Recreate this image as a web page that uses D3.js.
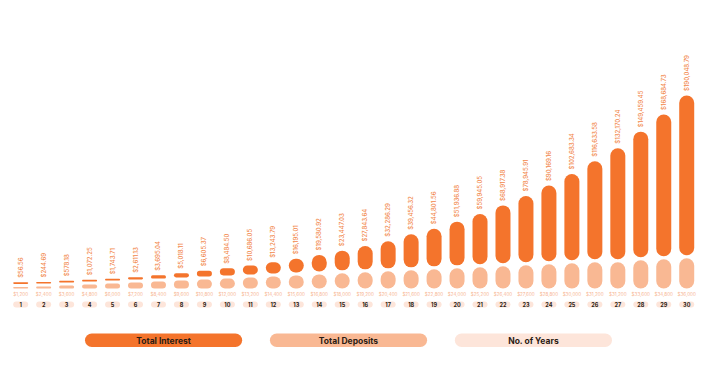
<!DOCTYPE html>
<html>
<head>
<meta charset="utf-8">
<script src="https://cdn.jsdelivr.net/npm/d3@7"></script>
<style>
  body { margin: 0; background: #fff; }
  text { font-family: Inter, "Open Sans", sans-serif; }
</style>
</head>
<body>
<div id="chart"></div>
<script>
// values
var years = [1,2,3,4,5,6,7,8,9,10,11,12,13,14,15,16,17,18,19,20,21,22,23,24,25,26,27,28,29,30];
var interest = [56.56, 244.69, 578.18, 1072.25, 1743.71, 2611.13, 3695.04, 5018.11, 6605.37, 8484.50,
  10686.05, 13243.79, 16195.01, 19580.92, 23447.03, 27843.64, 32286.29, 39456.32, 44801.56, 51936.88,
  59945.05, 68917.38, 78945.91, 90169.16, 102683.34, 116633.58, 132170.24, 149459.45, 168684.73, 190048.79];
var deposits = [1200, 2400, 3600, 4800, 6000, 7200, 8400, 9600, 10800, 12000,
  13200, 14400, 15600, 16800, 18000, 19200, 20400, 21600, 22800, 24000,
  25200, 26400, 27600, 28800, 30000, 31200, 31200, 33600, 34800, 36000];
var legendNames = ["Total Interest", "Total Deposits", "No. of Years"];

var W = 720, H = 365;
var cInterest = "#f4742c", cDeposit = "#f9b893", cYear = "#fde5da";
var base = 288.5, gap = 3, barW = 15;

var svg = d3.select("#chart").append("svg").attr("width", W).attr("height", H);

var x = d3.scaleBand().domain(years).range([9.2, 698.2]).padding(0);
var maxTotal = d3.max(years, function(d, i) { return interest[i] + deposits[i]; });
var h = d3.scaleLinear().domain([0, maxTotal]).range([0, 190]);

var rows = years.map(function(y, i) { return {year: y, interest: interest[i], deposit: deposits[i]}; });
var fmt2 = d3.format("$,.2f"), fmt0 = d3.format("$,");

function cx(d) { return x(d.year) + x.bandwidth() / 2; }
function dh(d) { return Math.max(h(d.deposit), 1.6); }
function ih(d) { return Math.max(h(d.interest), 1.6); }

// deposit bars
svg.selectAll("rect.dep").data(rows).enter().append("rect")
  .attr("class", "dep")
  .attr("x", function(d) { return cx(d) - barW / 2; })
  .attr("y", function(d) { return base - dh(d); })
  .attr("width", barW)
  .attr("height", dh)
  .attr("rx", function(d) { return Math.min(barW / 2, dh(d) / 2); })
  .attr("fill", cDeposit);

// interest bars
svg.selectAll("rect.int").data(rows).enter().append("rect")
  .attr("class", "int")
  .attr("x", function(d) { return cx(d) - barW / 2; })
  .attr("y", function(d) { return base - dh(d) - gap - ih(d); })
  .attr("width", barW)
  .attr("height", ih)
  .attr("rx", function(d) { return Math.min(barW / 2, ih(d) / 2); })
  .attr("fill", cInterest);

// interest labels (rotated)
svg.selectAll("text.intl").data(rows).enter().append("text")
  .attr("class", "intl")
  .attr("transform", function(d) {
    var top = base - dh(d) - gap - ih(d) - 4.5;
    return "translate(" + (cx(d) + 2) + "," + top + ") rotate(-90)";
  })
  .attr("font-size", 6)
  .attr("font-weight", 500)
  .attr("fill", "#f2884c")
  .text(function(d) { return fmt2(d.interest); });

// deposit labels
svg.selectAll("text.depl").data(rows).enter().append("text")
  .attr("class", "depl")
  .attr("x", cx)
  .attr("y", base + 7.5)
  .attr("text-anchor", "middle")
  .attr("font-size", 4.6)
  .attr("fill", "#f7b592")
  .text(function(d) { return fmt0(d.deposit); });

// year pills
svg.selectAll("rect.yr").data(rows).enter().append("rect")
  .attr("class", "yr")
  .attr("x", function(d) { return cx(d) - barW / 2; })
  .attr("y", 301.5)
  .attr("width", barW)
  .attr("height", 6)
  .attr("rx", 3)
  .attr("fill", cYear);

svg.selectAll("text.yrl").data(rows).enter().append("text")
  .attr("class", "yrl")
  .attr("x", cx)
  .attr("y", 306.5)
  .attr("text-anchor", "middle")
  .attr("font-size", 5.5)
  .attr("font-weight", 700)
  .attr("fill", "#2b1c14")
  .text(function(d) { return d.year; });

// legend
var lx = d3.scaleBand().domain(legendNames).range([85, 612]).paddingInner(0.15);
var legColors = [cInterest, cDeposit, cYear];
var leg = svg.selectAll("g.leg").data(legendNames).enter().append("g")
  .attr("class", "leg")
  .attr("transform", function(d) { return "translate(" + lx(d) + ",333.5)"; });
leg.append("rect")
  .attr("width", lx.bandwidth())
  .attr("height", 13.5)
  .attr("rx", 6.75)
  .attr("fill", function(d, i) { return legColors[i]; });
leg.append("text")
  .attr("x", lx.bandwidth() / 2)
  .attr("y", 10)
  .attr("text-anchor", "middle")
  .attr("font-size", 8.5)
  .attr("font-weight", 700)
  .attr("fill", "#2b1c14")
  .text(function(d) { return d; });
</script>
</body>
</html>
